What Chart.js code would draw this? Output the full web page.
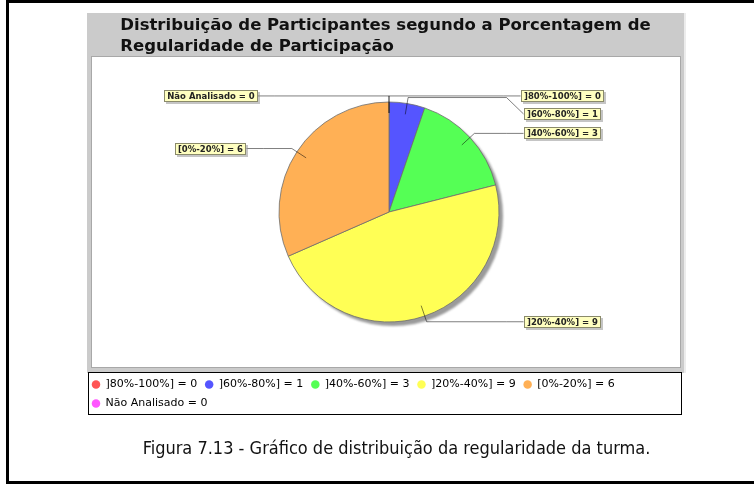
<!DOCTYPE html>
<html>
<head>
<meta charset="utf-8">
<script src="https://cdn.jsdelivr.net/npm/chart.js@4.4.1/dist/chart.umd.min.js"></script>
<style>
  html, body { margin: 0; padding: 0; background: #fff; overflow: hidden; }
  #pagina { position: relative; width: 754px; height: 486px; overflow: hidden; }
  #moldura {
    position: absolute; left: 6px; top: 0; width: 1000px; height: 478px;
    border: 3px solid #000; border-right: none;
  }
  #grafico { position: absolute; left: 0; top: 0; }
  #legenda-fig {
    position: absolute; left: 0; width: 793px; top: 437px;
    text-align: center; font: 18px "DejaVu Sans Condensed", "DejaVu Sans", sans-serif;
    color: #111;
  }
</style>
</head>
<body>
<div id="pagina">
  <div id="moldura"></div>
  <canvas id="grafico" width="754" height="486"></canvas>
  <div id="legenda-fig">Figura 7.13 - Gráfico de distribuição da regularidade da turma.</div>
</div>
<script>
// faixas de regularidade e número de participantes em cada uma
const faixas = [']80%-100%]', ']60%-80%]', ']40%-60%]', ']20%-40%]', '[0%-20%]', 'Não Analisado'];
const participantes = [0, 1, 3, 9, 6, 0];
const cores = ['#ff5555', '#5555ff', '#55ff55', '#ffff55', '#ffb055', '#ff55ff'];

const titulo = ['Distribuição de Participantes segundo a Porcentagem de', 'Regularidade de Participação'];

// fundo cinza do gráfico, área do plot e caixa da legenda
const fundo = {
  id: 'fundo',
  beforeDraw(chart) {
    const c = chart.ctx;
    c.save();
    c.fillStyle = '#cbcbcb';
    c.fillRect(87, 13, 597, 360);
    c.fillStyle = '#ececec';
    c.fillRect(684, 13, 2, 360);
    c.fillStyle = '#fff';
    c.fillRect(92, 57, 588, 310);
    c.strokeStyle = '#a8a8a8';
    c.lineWidth = 1;
    c.strokeRect(91.5, 56.5, 589, 311);
    // caixa da legenda
    c.fillStyle = '#fff';
    c.fillRect(88, 372, 594, 43);
    c.strokeStyle = '#000';
    c.strokeRect(88.5, 372.5, 593, 42);
    // título em duas linhas alinhadas à esquerda
    c.font = 'bold 16.5px "DejaVu Sans"';
    c.fillStyle = '#111';
    c.textBaseline = 'alphabetic';
    const w = c.measureText(titulo[0]).width;
    const x0 = 385.5 - w / 2;
    c.fillText(titulo[0], x0, 30);
    c.fillText(titulo[1], x0, 51);
    c.restore();
  }
};

// sombra da pizza
const sombra = {
  id: 'sombra',
  beforeDatasetsDraw(chart) {
    const arco = chart.getDatasetMeta(0).data[0];
    if (!arco) return;
    const c = chart.ctx;
    c.save();
    c.filter = 'blur(1px)';
    c.fillStyle = '#9a9a9a';
    c.beginPath();
    c.arc(arco.x + 4, arco.y + 4, arco.outerRadius, 0, Math.PI * 2);
    c.fill();
    c.restore();
  }
};

// rótulos com linhas de ligação, no estilo do JFreeChart
const rotulos = {
  id: 'rotulos',
  afterDatasetsDraw(chart) {
    const arcos = chart.getDatasetMeta(0).data;
    const c = chart.ctx;
    const cx = arcos[0].x, cy = arcos[0].y, r = arcos[0].outerRadius;
    const alturaCaixa = 12, espaco = 18;
    c.save();
    c.font = 'bold 8.5px "DejaVu Sans"';

    const itens = arcos.map((arco, i) => {
      const meio = (arco.startAngle + arco.endAngle) / 2;
      const a = meio + Math.PI / 2;
      const direita = a < Math.PI;
      const texto = faixas[i] + ' = ' + participantes[i];
      return {
        direita, texto,
        ax: cx + 0.9 * r * Math.cos(meio), ay: cy + 0.9 * r * Math.sin(meio),
        ex: cx + 1.055 * r * Math.cos(meio), ey: cy + 1.055 * r * Math.sin(meio),
        largura: c.measureText(texto).width + 6
      };
    });

    [true, false].forEach(lado => {
      const grupo = itens.filter(it => it.direita === lado).sort((p, q) => p.ey - q.ey);
      let ultimo = -Infinity;
      grupo.forEach(it => {
        it.y = Math.max(it.ey, ultimo + espaco);
        ultimo = it.y;
        const centro = lado ? cx + r + 63 : cx - r - 68;
        it.x0 = centro - it.largura / 2;
        it.borda = lado ? it.x0 : it.x0 + it.largura;
      });
    });

    // linhas
    c.strokeStyle = 'rgba(0,0,0,0.5)';
    c.lineWidth = 1;
    itens.forEach(it => {
      const dobra = it.direita ? it.borda - 17 : it.borda + 17;
      c.beginPath();
      c.moveTo(it.ax, it.ay);
      c.lineTo(it.ex, it.ey);
      c.lineTo(dobra, it.ey);
      c.lineTo(it.borda, it.y);
      c.stroke();
    });

    // caixas
    c.textAlign = 'center';
    c.textBaseline = 'middle';
    itens.forEach(it => {
      const top = Math.round(it.y - alturaCaixa / 2);
      const left = Math.round(it.x0);
      const w = Math.round(it.largura);
      c.fillStyle = 'rgba(140,140,140,0.5)';
      c.fillRect(left + 2, top + 2, w, alturaCaixa);
      c.fillStyle = '#ffffc0';
      c.fillRect(left, top, w, alturaCaixa);
      c.strokeStyle = '#8a8a6a';
      c.strokeRect(left + 0.5, top + 0.5, w - 1, alturaCaixa - 1);
      c.fillStyle = '#222';
      c.fillText(it.texto, left + w / 2, top + alturaCaixa / 2 + 0.5);
    });
    c.restore();
  }
};

new Chart(document.getElementById('grafico'), {
  type: 'pie',
  data: {
    labels: faixas,
    datasets: [{
      data: participantes,
      backgroundColor: cores,
      borderColor: 'rgba(110,110,110,0.8)',
      borderWidth: 1,
      radius: 110
    }]
  },
  options: {
    responsive: false,
    animation: false,
    events: [],
    layout: { padding: { left: 84, right: 60, top: 53, bottom: 67 } },
    plugins: {
      tooltip: { enabled: false },
      legend: {
        position: 'bottom',
        align: 'start',
        labels: {
          usePointStyle: true,
          boxWidth: 8,
          boxHeight: 6,
          padding: 8,
          color: '#444',
          font: { family: 'DejaVu Sans', size: 11 },
          generateLabels(chart) {
            const ds = chart.data.datasets[0];
            return chart.data.labels.map((f, i) => ({
              text: f + ' = ' + ds.data[i],
              fillStyle: ds.backgroundColor[i],
              strokeStyle: ds.backgroundColor[i],
              lineWidth: 0,
              pointStyle: 'circle',
              hidden: false,
              index: i
            }));
          }
        }
      }
    }
  },
  plugins: [fundo, sombra, rotulos]
});
</script>
</body>
</html>
